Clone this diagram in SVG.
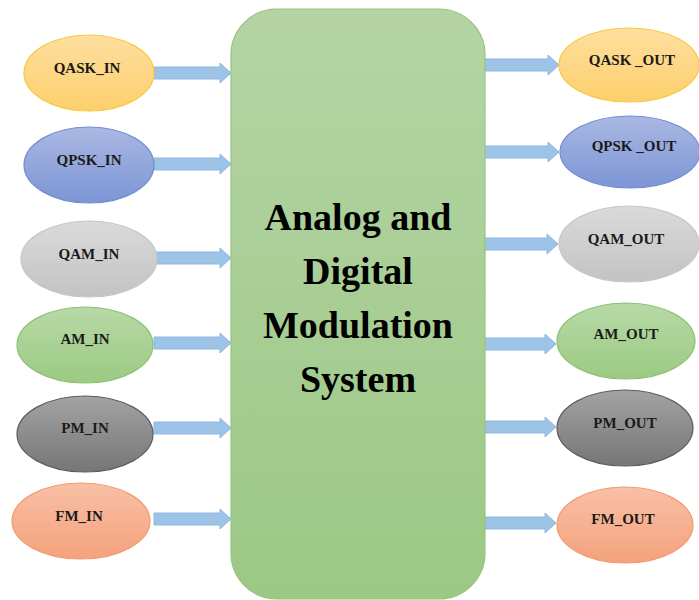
<svg xmlns="http://www.w3.org/2000/svg" width="699" height="600" viewBox="0 0 699 600">
  <defs>
    <linearGradient id="gBox" x1="0" y1="0" x2="0" y2="1">
      <stop offset="0" stop-color="#b4d4a5"/>
      <stop offset="1" stop-color="#9cc884"/>
    </linearGradient>
    <linearGradient id="gYellow" x1="0" y1="0" x2="0" y2="1">
      <stop offset="0" stop-color="#fedf9f"/>
      <stop offset="1" stop-color="#fdcf6c"/>
    </linearGradient>
    <linearGradient id="gBlue" x1="0" y1="0" x2="0" y2="1">
      <stop offset="0" stop-color="#aab8e2"/>
      <stop offset="1" stop-color="#7c95d5"/>
    </linearGradient>
    <linearGradient id="gGray" x1="0" y1="0" x2="0" y2="1">
      <stop offset="0" stop-color="#dadada"/>
      <stop offset="1" stop-color="#c3c3c3"/>
    </linearGradient>
    <linearGradient id="gGreen" x1="0" y1="0" x2="0" y2="1">
      <stop offset="0" stop-color="#b8d9a7"/>
      <stop offset="1" stop-color="#9bca82"/>
    </linearGradient>
    <linearGradient id="gDark" x1="0" y1="0" x2="0" y2="1">
      <stop offset="0" stop-color="#a3a3a3"/>
      <stop offset="1" stop-color="#767676"/>
    </linearGradient>
    <linearGradient id="gOrange" x1="0" y1="0" x2="0" y2="1">
      <stop offset="0" stop-color="#f8c0a6"/>
      <stop offset="1" stop-color="#f4a27c"/>
    </linearGradient>
    <!-- block arrow pointing right, tip at origin -->
    <path id="arrowShape" d="M0,0 L-11,-10 L-11,-6 L-77,-6 L-77,6 L-11,6 L-11,10 Z"/>
  </defs>
  <style>
    .lbl { font-family: "Liberation Serif", "Times New Roman", serif; font-size: 15px; font-weight: bold; fill: #1a1a1a; text-anchor: middle; }
    .title { font-family: "Liberation Serif", "Times New Roman", serif; font-size: 38px; font-weight: bold; fill: #000; text-anchor: middle; }
    .arrow { fill: #9dc3e6; stroke: #8fb7e2; stroke-width: 1; }
    .yellow { fill: url(#gYellow); stroke: #f9c743; stroke-width: 1.2; }
    .blue { fill: url(#gBlue); stroke: #6f8dd2; stroke-width: 1.2; }
    .gray { fill: url(#gGray); stroke: #c6c6c6; stroke-width: 1.2; }
    .green { fill: url(#gGreen); stroke: #8dc171; stroke-width: 1.2; }
    .dark { fill: url(#gDark); stroke: #5c5c5c; stroke-width: 1.2; }
    .orange { fill: url(#gOrange); stroke: #f29a70; stroke-width: 1.2; }
  </style>

  <rect width="699" height="600" fill="#ffffff"/>

  <!-- connectors -->
  <g id="connectors">
    <use href="#arrowShape" class="arrow" transform="translate(231,73)"/>
    <use href="#arrowShape" class="arrow" transform="translate(231,164)"/>
    <use href="#arrowShape" class="arrow" transform="translate(231,258)"/>
    <use href="#arrowShape" class="arrow" transform="translate(231,343)"/>
    <use href="#arrowShape" class="arrow" transform="translate(231,428)"/>
    <use href="#arrowShape" class="arrow" transform="translate(231,519)"/>
    <use href="#arrowShape" class="arrow" transform="translate(559,65)"/>
    <use href="#arrowShape" class="arrow" transform="translate(559,152)"/>
    <use href="#arrowShape" class="arrow" transform="translate(558,244)"/>
    <use href="#arrowShape" class="arrow" transform="translate(556,344)"/>
    <use href="#arrowShape" class="arrow" transform="translate(556,427)"/>
    <use href="#arrowShape" class="arrow" transform="translate(556,523)"/>
  </g>

  <!-- central system block -->
  <g id="system">
    <rect x="231" y="9" width="254" height="590" rx="46" ry="46" fill="url(#gBox)" stroke="#98c47f" stroke-width="1.2"/>
    <text class="title" x="358" y="230">Analog and</text>
    <text class="title" x="358" y="284">Digital</text>
    <text class="title" x="358" y="338">Modulation</text>
    <text class="title" x="358" y="392">System</text>
  </g>

  <!-- inputs -->
  <g id="qask_in">
    <ellipse class="yellow" cx="89" cy="73" rx="65" ry="38"/>
    <text class="lbl" x="87" y="73">QASK_IN</text>
  </g>
  <g id="qpsk_in">
    <ellipse class="blue" cx="89" cy="165" rx="65" ry="38"/>
    <text class="lbl" x="89" y="165">QPSK_IN</text>
  </g>
  <g id="qam_in">
    <ellipse class="gray" cx="89" cy="259" rx="68" ry="38"/>
    <text class="lbl" x="89" y="259">QAM_IN</text>
  </g>
  <g id="am_in">
    <ellipse class="green" cx="85" cy="345" rx="68" ry="38"/>
    <text class="lbl" x="85" y="344">AM_IN</text>
  </g>
  <g id="pm_in">
    <ellipse class="dark" cx="85" cy="434" rx="68" ry="38"/>
    <text class="lbl" x="85" y="433">PM_IN</text>
  </g>
  <g id="fm_in">
    <ellipse class="orange" cx="81" cy="521" rx="69" ry="38"/>
    <text class="lbl" x="79" y="521">FM_IN</text>
  </g>

  <!-- outputs -->
  <g id="qask_out">
    <ellipse class="yellow" cx="629" cy="65" rx="70" ry="37"/>
    <text class="lbl" x="632" y="65">QASK _OUT</text>
  </g>
  <g id="qpsk_out">
    <ellipse class="blue" cx="630" cy="152" rx="70" ry="36"/>
    <text class="lbl" x="634" y="151">QPSK _OUT</text>
  </g>
  <g id="qam_out">
    <ellipse class="gray" cx="629" cy="244" rx="70" ry="38"/>
    <text class="lbl" x="626" y="244">QAM_OUT</text>
  </g>
  <g id="am_out">
    <ellipse class="green" cx="626" cy="341" rx="69" ry="38"/>
    <text class="lbl" x="626" y="339">AM_OUT</text>
  </g>
  <g id="pm_out">
    <ellipse class="dark" cx="625" cy="428" rx="68" ry="38"/>
    <text class="lbl" x="625" y="428">PM_OUT</text>
  </g>
  <g id="fm_out">
    <ellipse class="orange" cx="625" cy="525" rx="68" ry="38"/>
    <text class="lbl" x="623" y="524">FM_OUT</text>
  </g>
</svg>
